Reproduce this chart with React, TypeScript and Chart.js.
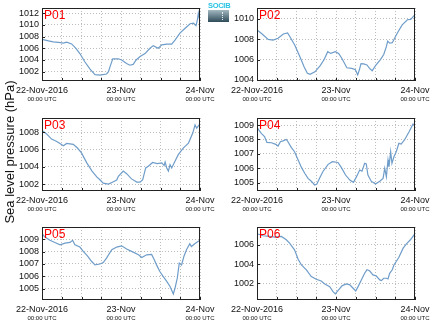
import React, { useEffect, useRef } from 'react';
import { Chart, registerables } from 'chart.js';

Chart.register(...registerables);

// ---------- data ----------
const xTickHours = [0, 24, 48];
const xTickLabels = ['22-Nov-2016', '23-Nov', '24-Nov'];
const xSubLabels = ['00:00 UTC', '00:00 UTC', '00:00 UTC'];
const yTitle = 'Sea level pressure (hPa)';

const p01Hours = [0, 2, 3.4, 5, 6.5, 7.5, 9, 10.3, 11.5, 13, 14.6, 16.1, 17.6, 19.6, 20.2, 20.7, 21.5, 23.2, 24.2, 25.7, 26.7, 27.7, 28.6, 29.8, 31.3, 32.8, 33.8, 35.3, 36.4, 37.9, 39.4, 40.4, 41.9, 43.4, 45, 46, 46.8, 47.2, 47.5, 47.8, 48];
const p01Values = [1007.54, 1007.26, 1007.1, 1007.0, 1006.9, 1007.05, 1006.75, 1006.0, 1005.1, 1003.7, 1002.45, 1001.5, 1001.4, 1001.6, 1002.0, 1002.9, 1004.2, 1004.2, 1004.0, 1003.4, 1003.1, 1003.25, 1004.0, 1004.6, 1005.1, 1006.0, 1006.46, 1006.0, 1006.6, 1006.7, 1006.7, 1007.4, 1008.6, 1009.4, 1010.2, 1010.3, 1009.9, 1010.85, 1012.0, 1011.1, 1011.9];

const p02Hours = [0, 1.3, 3.4, 4.9, 6.4, 8, 9.3, 10, 11.5, 13, 14.3, 15.3, 16.1, 17.6, 19.2, 20.4, 21.5, 22.4, 23.8, 24.8, 25.8, 27.3, 28.8, 29.9, 30.6, 31.1, 31.6, 32.4, 33.4, 34.2, 35, 36, 37.5, 38.5, 39.3, 39.7, 40.3, 41.1, 42.6, 44.1, 45.7, 46.7, 48];
const p02Values = [1008.9, 1008.57, 1007.98, 1007.9, 1008.08, 1008.5, 1008.6, 1008.24, 1007.4, 1006.3, 1005.3, 1004.65, 1004.55, 1004.8, 1005.4, 1006.0, 1006.77, 1006.6, 1006.77, 1006.6, 1006.1, 1005.2, 1005.14, 1005.0, 1004.5, 1005.0, 1005.6, 1005.57, 1005.47, 1005.14, 1004.9, 1005.4, 1006.0, 1006.5, 1007.26, 1007.8, 1007.6, 1007.65, 1008.57, 1009.4, 1009.9, 1009.93, 1010.4];

const p03Hours = [0, 1.4, 2.9, 4.5, 6.5, 7.5, 9.5, 10.7, 12, 13.6, 15.2, 16.7, 17.6, 18.6, 20.2, 21.7, 22.7, 23.2, 24.7, 25.7, 27.2, 28.8, 29.8, 30.6, 31.5, 32.3, 33.6, 35, 36.4, 37.1, 37.4, 37.9, 38.4, 38.9, 39.4, 40.4, 41.4, 42.9, 44.5, 45.8, 46.5, 47, 48];
const p03Values = [1008.2, 1007.8, 1007.2, 1006.93, 1006.43, 1006.7, 1006.6, 1006.2, 1005.6, 1004.45, 1003.5, 1002.8, 1002.5, 1002.1, 1002.0, 1002.27, 1002.46, 1002.9, 1003.5, 1003.2, 1002.6, 1002.23, 1002.23, 1002.5, 1003.87, 1004.06, 1004.5, 1004.37, 1004.45, 1004.14, 1004.56, 1003.87, 1003.5, 1004.25, 1003.87, 1004.64, 1005.4, 1006.16, 1006.74, 1007.9, 1008.84, 1008.46, 1008.96];

const p04Hours = [0, 1.3, 2.3, 3, 4.4, 5.7, 6.4, 7.1, 7.9, 8.9, 9.4, 10.4, 11.4, 12.5, 13.5, 14.5, 15.5, 16.5, 17.5, 18.2, 19, 20, 21.6, 22.9, 24.6, 25.6, 26.9, 28.2, 29.3, 30.2, 31.2, 31.9, 32.7, 33.2, 33.7, 34.7, 36, 37.3, 38.3, 38.8, 39.3, 39.8, 40.1, 40.6, 41, 41.6, 42.3, 43.1, 43.8, 44.9, 46.2, 47.4, 48];
const p04Values = [1008.84, 1008.42, 1008.2, 1007.8, 1007.77, 1007.66, 1007.54, 1007.84, 1007.9, 1008.0, 1007.84, 1007.45, 1007.15, 1006.57, 1006.06, 1005.65, 1005.3, 1005.1, 1004.84, 1004.9, 1005.3, 1005.76, 1006.27, 1006.46, 1006.4, 1006.06, 1005.53, 1005.18, 1005.02, 1005.4, 1005.88, 1005.8, 1006.34, 1006.3, 1005.53, 1005.1, 1004.9, 1005.1, 1005.3, 1006.0, 1005.4, 1006.57, 1006.1, 1007.15, 1006.34, 1006.8, 1007.15, 1007.73, 1007.68, 1008.0, 1008.54, 1009.07, 1009.0];

const p05Hours = [0, 0.9, 2.4, 3.9, 5.5, 7, 8.5, 9.3, 10, 11.5, 12.6, 13.8, 15.1, 16.1, 17.6, 18.6, 19.6, 21.2, 22.7, 24.2, 25.7, 27.7, 29.3, 30.3, 31.8, 33.3, 34, 34.8, 35.8, 36.8, 37.9, 38.9, 39.9, 40.4, 41.1, 41.7, 42.4, 43.1, 43.9, 44.9, 45.4, 46.4, 47.4, 48];
const p05Values = [1009.43, 1009.16, 1008.9, 1008.73, 1008.54, 1008.68, 1008.73, 1008.9, 1008.54, 1008.36, 1008.0, 1007.66, 1007.2, 1006.93, 1007.0, 1007.12, 1007.47, 1008.14, 1008.36, 1008.46, 1008.2, 1007.95, 1007.74, 1007.52, 1007.74, 1007.77, 1007.4, 1006.93, 1006.4, 1006.0, 1005.6, 1005.19, 1004.6, 1005.05, 1005.86, 1007.07, 1006.93, 1007.6, 1008.14, 1008.62, 1008.4, 1008.62, 1008.8, 1008.9];

const p06Hours = [0, 1.8, 3.8, 5.4, 7.4, 8.9, 9.9, 11.4, 12.5, 13.5, 15, 16.5, 18, 19.5, 20.6, 22.1, 23.1, 23.8, 24.6, 25.9, 27.2, 28.2, 29.2, 30, 30.7, 31.7, 32.7, 33.4, 34.2, 35.2, 36.2, 37.3, 37.8, 38.5, 39.3, 39.8, 40.3, 41.1, 41.6, 42.3, 43.1, 44.4, 45.4, 46.6, 48];
const p06Values = [1007.15, 1006.94, 1006.87, 1006.8, 1006.87, 1006.52, 1006.17, 1005.48, 1004.5, 1003.9, 1003.4, 1002.7, 1002.42, 1002.24, 1001.93, 1001.65, 1001.13, 1000.9, 1001.23, 1001.76, 1001.93, 1001.83, 1001.48, 1001.2, 1001.65, 1002.35, 1003.04, 1003.4, 1003.3, 1002.87, 1002.77, 1002.35, 1002.28, 1002.52, 1002.52, 1002.45, 1003.04, 1003.4, 1003.9, 1004.26, 1004.71, 1005.65, 1006.1, 1006.52, 1007.15];

// ---------- panel config (axis ranges & placement) ----------
const PLOT_W = 158;
const PLOT_H = 73;
const Y_AXIS_W = 42;
const TOP_PAD = 8;
const RIGHT_PAD = 16;
const X1_H = 14;
const X2_H = 10;
const BOTTOM_PAD = 2;

const panels = [
  { name: 'P01', hours: p01Hours, values: p01Values, yMin: 1000.4, yMax: 1012.9, yStep: 2, left: 42, top: 8 },
  { name: 'P02', hours: p02Hours, values: p02Values, yMin: 1003.9, yMax: 1011.05, yStep: 2, left: 257, top: 8 },
  { name: 'P03', hours: p03Hours, values: p03Values, yMin: 1001.2, yMax: 1009.64, yStep: 2, left: 42, top: 118 },
  { name: 'P04', hours: p04Hours, values: p04Values, yMin: 1004.42, yMax: 1009.49, yStep: 1, left: 257, top: 118 },
  { name: 'P05', hours: p05Hours, values: p05Values, yMin: 1004.11, yMax: 1009.97, yStep: 1, left: 42, top: 227 },
  { name: 'P06', hours: p06Hours, values: p06Values, yMin: 1000.26, yMax: 1007.85, yStep: 2, left: 257, top: 227 },
];

const FONT = '"Liberation Sans", Arial, sans-serif';

const framePlugin = {
  id: 'frame',
  afterDraw(chart: any, _args: any, opts: any) {
    const { ctx, chartArea: a, scales } = chart;
    ctx.save();
    ctx.strokeStyle = '#222';
    ctx.lineWidth = 1;
    ctx.beginPath();
    scales.x.ticks.forEach((t: any) => {
      const px = Math.round(scales.x.getPixelForValue(t.value)) + 0.5;
      ctx.moveTo(px, a.bottom);
      ctx.lineTo(px, a.bottom - 3);
    });
    scales.y.ticks.forEach((t: any) => {
      const py = Math.round(scales.y.getPixelForValue(t.value)) + 0.5;
      ctx.moveTo(a.left, py);
      ctx.lineTo(a.left + 3, py);
    });
    ctx.stroke();
    ctx.strokeRect(a.left + 0.5, a.top + 0.5, a.right - a.left - 1, a.bottom - a.top - 1);
    ctx.fillStyle = '#ff0000';
    ctx.font = `12px ${FONT}`;
    ctx.textBaseline = 'top';
    ctx.textAlign = 'left';
    ctx.fillText(opts.label || '', a.left + 2, a.top + 2);
    ctx.restore();
  },
};

function Panel(props: any) {
  const { name, hours, values, yMin, yMax, yStep, left, top } = props;
  const ref = useRef<HTMLCanvasElement>(null);
  const cx = left - Y_AXIS_W;
  const cy = top - TOP_PAD;
  const cw = Y_AXIS_W + PLOT_W + RIGHT_PAD;
  const ch = TOP_PAD + PLOT_H + X1_H + X2_H + BOTTOM_PAD;

  useEffect(() => {
    if (!ref.current) return;
    const data = hours.map((h: number, i: number) => ({ x: h, y: values[i] }));
    const chart = new Chart(ref.current, {
      type: 'line',
      data: {
        datasets: [
          {
            data,
            borderColor: '#6f9dc9',
            borderWidth: 1.2,
            pointRadius: 0,
            tension: 0,
            fill: false,
          },
        ],
      },
      options: {
        responsive: false,
        animation: false,
        devicePixelRatio: 1,
        layout: { padding: { left: 0, top: TOP_PAD, right: RIGHT_PAD, bottom: BOTTOM_PAD } },
        plugins: {
          legend: { display: false },
          tooltip: { enabled: false },
          frame: { label: name },
        } as any,
        scales: {
          x: {
            type: 'linear',
            position: 'bottom',
            weight: 1,
            min: 0,
            max: 48,
            grid: { color: '#bdbdbd', drawTicks: false, lineWidth: 1 },
            border: { display: false, dash: [1, 2] },
            ticks: {
              stepSize: 6,
              autoSkip: false,
              maxRotation: 0,
              padding: 4,
              color: '#111',
              font: { family: FONT, size: 9 },
              callback: (v: any) => {
                const i = xTickHours.indexOf(Number(v));
                return i >= 0 ? xTickLabels[i] : '';
              },
            },
            afterFit: (s: any) => {
              s.height = X1_H;
              s.paddingLeft = 0;
              s.paddingRight = 0;
            },
          },
          x2: {
            type: 'linear',
            position: 'bottom',
            weight: 2,
            min: 0,
            max: 48,
            grid: { display: false, drawTicks: false },
            border: { display: false },
            ticks: {
              stepSize: 24,
              autoSkip: false,
              maxRotation: 0,
              padding: 1,
              color: '#111',
              font: { family: FONT, size: 6 },
              callback: (v: any) => {
                const i = xTickHours.indexOf(Number(v));
                return i >= 0 ? xSubLabels[i] : '';
              },
            },
            afterFit: (s: any) => {
              s.height = X2_H;
              s.paddingLeft = 0;
              s.paddingRight = 0;
            },
          },
          y: {
            type: 'linear',
            position: 'left',
            min: yMin,
            max: yMax,
            grid: { color: '#bdbdbd', drawTicks: false, lineWidth: 1 },
            border: { display: false, dash: [1, 2] },
            ticks: {
              stepSize: yStep,
              includeBounds: false,
              padding: 3,
              color: '#111',
              font: { family: FONT, size: 9 },
              callback: (v: any) => String(v),
            },
            afterFit: (s: any) => {
              s.width = Y_AXIS_W;
              s.paddingTop = 0;
              s.paddingBottom = 0;
            },
          },
        } as any,
      },
      plugins: [framePlugin as any],
    });
    return () => chart.destroy();
  }, []);

  return (
    <canvas
      ref={ref}
      width={cw}
      height={ch}
      style={{ position: 'absolute', left: cx, top: cy, width: cw, height: ch }}
    />
  );
}

export default function App() {
  return (
    <div style={{ position: 'absolute', left: 0, top: 0, width: 434, height: 327, background: '#fff', overflow: 'hidden' }}>
      {panels.map((p) => (
        <Panel key={p.name} {...p} />
      ))}
      <div
        style={{
          position: 'absolute',
          left: 10 - 110,
          top: 152 - 9,
          width: 220,
          height: 18,
          lineHeight: '18px',
          textAlign: 'center',
          fontFamily: FONT,
          fontSize: 13,
          color: '#111',
          transform: 'rotate(-90deg)',
          whiteSpace: 'nowrap',
        }}
      >
        {yTitle}
      </div>
      <div style={{ position: 'absolute', left: 208, top: 2, width: 22, height: 21 }}>
        <div
          style={{
            fontFamily: FONT,
            fontSize: 7.5,
            fontWeight: 'bold',
            lineHeight: '7px',
            color: '#27c3e3',
            textAlign: 'center',
            letterSpacing: -0.3,
          }}
        >
          SOCIB
        </div>
        <div
          style={{
            width: 21,
            height: 12,
            marginTop: 1,
            background: 'linear-gradient(to bottom, #a3b9c2, #2f4b59)',
            position: 'relative',
          }}
        >
          <div style={{ position: 'absolute', left: 14, top: 2, width: 0, height: 8, borderLeft: '1px dotted #e8eef0' }} />
        </div>
      </div>
    </div>
  );
}
